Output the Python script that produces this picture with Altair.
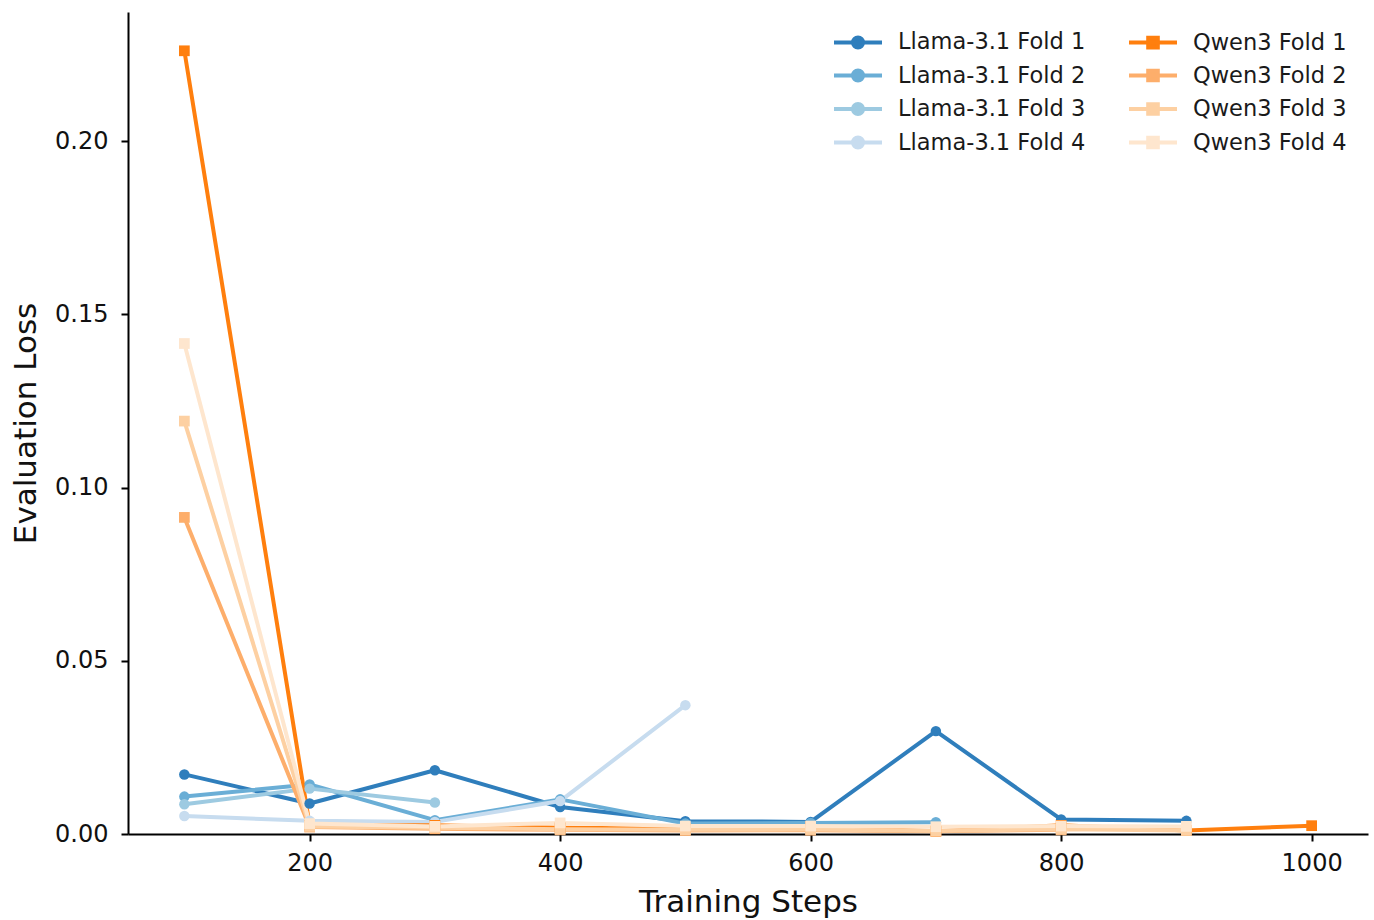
import altair as alt
import pandas as pd

# Evaluation steps (x axis)
steps = [100, 200, 300, 400, 500, 600, 700, 800, 900, 1000]

# Evaluation loss per fold
llama_fold1 = [0.0172, 0.0088, 0.0184, 0.0078, 0.0037, 0.0035, 0.0297, 0.0042, 0.0038]
llama_fold2 = [0.0108, 0.0143, 0.0040, 0.0100, 0.0030, 0.0032, 0.0034]
llama_fold3 = [0.0086, 0.0131, 0.0091]
llama_fold4 = [0.0052, 0.0038, 0.0035, 0.0095, 0.0372]

qwen_fold1 = [0.2261, 0.0025, 0.0025, 0.0018, 0.0016, 0.0022, 0.0008, 0.0025, 0.0010, 0.0024]
qwen_fold2 = [0.0914, 0.0020, 0.0015, 0.0012, 0.0010, 0.0011, 0.0008, 0.0012]
qwen_fold3 = [0.1192, 0.0022, 0.0018, 0.0014, 0.0012, 0.0013, 0.0009, 0.0014, 0.0010]
qwen_fold4 = [0.1416, 0.0030, 0.0022, 0.0032, 0.0023, 0.0023, 0.0021, 0.0023, 0.0022]

series_names = [
    "Llama-3.1 Fold 1", "Llama-3.1 Fold 2", "Llama-3.1 Fold 3", "Llama-3.1 Fold 4",
    "Qwen3 Fold 1", "Qwen3 Fold 2", "Qwen3 Fold 3", "Qwen3 Fold 4",
]
series_values = [
    llama_fold1, llama_fold2, llama_fold3, llama_fold4,
    qwen_fold1, qwen_fold2, qwen_fold3, qwen_fold4,
]
series_colors = [
    "#2f7ebc", "#6aaed6", "#9dcae1", "#c7dcef",
    "#ff7f0e", "#fdae6b", "#fdd0a2", "#fee6ce",
]
series_model = ["Llama"] * 4 + ["Qwen"] * 4

rows = []
for order, (name, vals, model) in enumerate(zip(series_names, series_values, series_model)):
    for s, v in zip(steps, vals):
        rows.append({"series": name, "model": model, "order": order, "step": s, "loss": v})
df = pd.DataFrame(rows)

# Legend is filled row by row, so interleave: Llama in the left column, Qwen in the right
legend_order = [val for pair in zip(series_names[:4], series_names[4:]) for val in pair]
color_of = dict(zip(series_names, series_colors))
legend_colors = [color_of[n] for n in legend_order]

# Legend glyphs: a short line with the marker in its middle
circle_glyph = "M-2,0L2,0M-0.42,0A0.42,0.42,0,1,0,0.42,0A0.42,0.42,0,1,0,-0.42,0Z"
square_glyph = "M-2,0L2,0M-0.4,-0.4L0.4,-0.4L0.4,0.4L-0.4,0.4Z"
legend_glyphs = [circle_glyph if n.startswith("Llama") else square_glyph for n in legend_order]

FONT = "DejaVu Sans"

x_enc = alt.X(
    "step:Q",
    scale=alt.Scale(domain=[55, 1045], nice=False, zero=False),
    axis=alt.Axis(values=[200, 400, 600, 800, 1000], format="d", title="Training Steps",
                  labelPadding=10, titlePadding=12),
)
y_enc = alt.Y(
    "loss:Q",
    scale=alt.Scale(domain=[0, 0.2373], nice=False, zero=False),
    axis=alt.Axis(values=[0, 0.05, 0.10, 0.15, 0.20], format=".2f",
                  title="Evaluation Loss", labelPadding=13, titlePadding=12),
)

# Colour scale for the drawn marks (plot order) and for the legend (row-wise order)
mark_scale = alt.Scale(domain=series_names, range=series_colors)
legend_scale = alt.Scale(domain=legend_order, range=legend_colors)

lines = alt.Chart(df).mark_line(strokeWidth=4, strokeJoin="round").encode(
    x=x_enc, y=y_enc,
    color=alt.Color("series:N", scale=mark_scale, legend=None),
    order=alt.Order("step:Q"),
)

llama_pts = alt.Chart(df).transform_filter(alt.datum.model == "Llama").mark_circle(
    size=110, opacity=1
).encode(
    x=x_enc, y=y_enc,
    color=alt.Color("series:N", scale=mark_scale, legend=None),
)

qwen_pts = alt.Chart(df).transform_filter(alt.datum.model == "Qwen").mark_square(
    size=115, opacity=1
).encode(
    x=x_enc, y=y_enc,
    color=alt.Color("series:N", scale=mark_scale, legend=None),
)

legend_spec = alt.Legend(
    title=None, orient="none", legendX=716, legendY=16, columns=2, direction="horizontal",
    labelFont=FONT, labelFontSize=22.5, labelColor="#1a1a1a", labelLimit=400,
    symbolSize=576, symbolStrokeWidth=4, symbolOpacity=1,
    labelOffset=26, columnPadding=35, rowPadding=5.5, padding=0,
)

# Legend-only layer: no rows survive the filter, so it draws nothing but the legend
legend_layer = alt.Chart(df).transform_filter("false").mark_point(
    filled=True, opacity=1, strokeWidth=4
).encode(
    x=x_enc, y=y_enc,
    fill=alt.Fill("series:N", scale=legend_scale, legend=legend_spec),
    stroke=alt.Stroke("series:N", scale=legend_scale, legend=legend_spec),
    shape=alt.Shape("series:N", scale=alt.Scale(domain=legend_order, range=legend_glyphs),
                    legend=legend_spec),
)

chart = (
    alt.layer(lines, llama_pts, qwen_pts, legend_layer)
    .properties(
        width=1240, height=822,
        padding={"left": 128, "top": 12, "right": 6, "bottom": 86},
        autosize=alt.AutoSizeParams(type="none"),
        background="white",
    )
    .configure_view(stroke=None)
    .configure_axis(
        grid=False,
        domainColor="#000", domainWidth=2,
        tickColor="#000", tickWidth=2, tickSize=7,
        labelFont=FONT, labelFontSize=24, labelColor="#111",
        titleFont=FONT, titleFontSize=31, titleFontWeight="normal", titleColor="#111",
    )
)

chart.save("out.html", embed_options={"renderer": "svg", "actions": False})
